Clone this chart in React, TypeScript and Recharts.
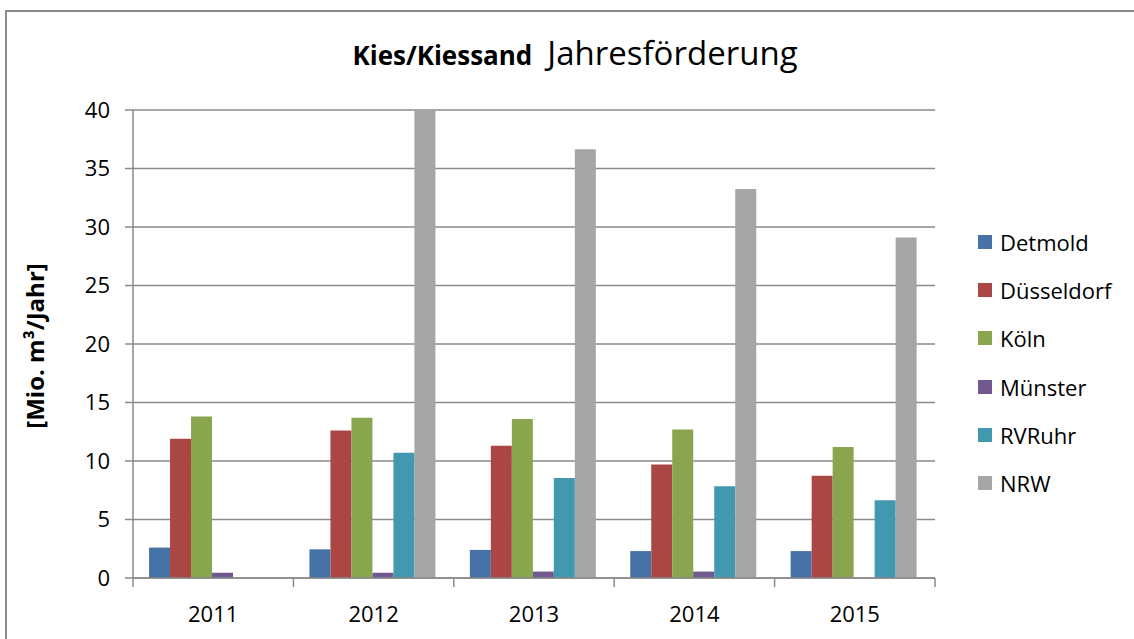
import React from 'react';
import { BarChart, Bar, XAxis, YAxis, CartesianGrid, Legend } from 'recharts';

// Jahresförderung Kies/Kiessand in Mio. m³ je Regierungsbezirk
const years = ['2011', '2012', '2013', '2014', '2015'];
const detmold = [2.6, 2.45, 2.4, 2.3, 2.3];
const duesseldorf = [11.9, 12.6, 11.3, 9.7, 8.75];
const koeln = [13.8, 13.7, 13.6, 12.7, 11.2];
const muenster = [0.45, 0.45, 0.55, 0.55, null];
const rvRuhr = [null, 10.7, 8.55, 7.85, 6.65];
const nrw = [null, 40, 36.65, 33.25, 29.1];
const yTicks = [0, 5, 10, 15, 20, 25, 30, 35, 40];

const series = [
  { key: 'Detmold', values: detmold, color: '#4672A8' },
  { key: 'Düsseldorf', values: duesseldorf, color: '#AA4643' },
  { key: 'Köln', values: koeln, color: '#89A54E' },
  { key: 'Münster', values: muenster, color: '#71588F' },
  { key: 'RVRuhr', values: rvRuhr, color: '#4198AF' },
  { key: 'NRW', values: nrw, color: '#A5A5A5' },
];

const data = years.map((year, i) => {
  const row: Record<string, string | number | null> = { year };
  series.forEach((s) => {
    row[s.key] = s.values[i];
  });
  return row;
});

const W = 1134;
const H = 639;
const PLOT_LEFT = 133;
const PLOT_RIGHT = 935;
const PLOT_TOP = 110;
const PLOT_BOTTOM = 578;
const HALF_BAND = (PLOT_RIGHT - PLOT_LEFT) / years.length / 2;
const AXIS = '#8a8a8a';
const FONT = '"Open Sans", sans-serif';

const XTick = (props: any) => {
  const { x, payload, index } = props;
  const last = index === years.length - 1;
  return (
    <g>
      <line x1={x - HALF_BAND} x2={x - HALF_BAND} y1={PLOT_BOTTOM} y2={PLOT_BOTTOM + 9} stroke={AXIS} strokeWidth={1.5} />
      {last && (
        <line x1={x + HALF_BAND} x2={x + HALF_BAND} y1={PLOT_BOTTOM} y2={PLOT_BOTTOM + 9} stroke={AXIS} strokeWidth={1.5} />
      )}
      <text x={x} y={622} textAnchor="middle" fill="#000" fontSize={22} fontFamily={FONT}>
        {payload.value}
      </text>
    </g>
  );
};

const LegendList = () => (
  <div style={{ fontFamily: FONT, fontSize: 22, color: '#000' }}>
    {series.map((s) => (
      <div key={s.key} style={{ height: 48.2, display: 'flex', alignItems: 'center' }}>
        <span style={{ width: 14, height: 14, background: s.color, display: 'inline-block', marginRight: 8 }} />
        <span style={{ lineHeight: '24px' }}>{s.key}</span>
      </div>
    ))}
  </div>
);

export default function App() {
  return (
    <div style={{ position: 'absolute', left: 0, top: 0, width: W, height: H, overflow: 'hidden', background: '#fff' }}>
      <div
        style={{
          position: 'absolute',
          left: 5,
          top: 10,
          width: W + 20,
          height: H + 20,
          border: `2px solid ${AXIS}`,
        }}
      />
      <div
        style={{
          position: 'absolute',
          left: 0,
          top: 33,
          width: 1150,
          textAlign: 'center',
          fontFamily: FONT,
          color: '#000',
          whiteSpace: 'nowrap',
          lineHeight: '40px',
        }}
      >
        <span style={{ fontWeight: 700, fontSize: 26 }}>Kies/Kiessand</span>
        <span style={{ fontSize: 33, marginLeft: 15 }}>Jahresförderung</span>
      </div>
      <div style={{ position: 'absolute', left: 0, top: 0 }}>
        <BarChart
          width={W}
          height={H}
          data={data}
          margin={{ top: PLOT_TOP, right: W - PLOT_RIGHT, bottom: 21, left: 73 }}
          barCategoryGap="10%"
          barGap={0}
        >
          <CartesianGrid vertical={false} stroke={AXIS} strokeWidth={1.5} />
          <XAxis
            dataKey="year"
            height={40}
            stroke={AXIS}
            strokeWidth={1.5}
            tickLine={false}
            tick={<XTick />}
            interval={0}
          />
          <YAxis
            width={60}
            domain={[0, 40]}
            ticks={yTicks}
            interval={0}
            stroke={AXIS}
            strokeWidth={1.5}
            tickSize={8}
            tickMargin={15}
            tick={{ fill: '#000', fontSize: 22, fontFamily: FONT }}
            label={{
              content: () => (
                <text
                  x={44}
                  y={346}
                  transform="rotate(-90, 44, 346)"
                  textAnchor="middle"
                  fontWeight={700}
                  fontSize={24}
                  fontFamily={FONT}
                  fill="#000"
                >
                  [Mio. m³/Jahr]
                </text>
              ),
            }}
          />
          <Legend
            layout="vertical"
            align="center"
            verticalAlign="middle"
            wrapperStyle={{ left: 978, top: 218, width: 156 }}
            content={() => <LegendList />}
          />
          {series.map((s) => (
            <Bar key={s.key} dataKey={s.key} fill={s.color} isAnimationActive={false} />
          ))}
        </BarChart>
      </div>
    </div>
  );
}
